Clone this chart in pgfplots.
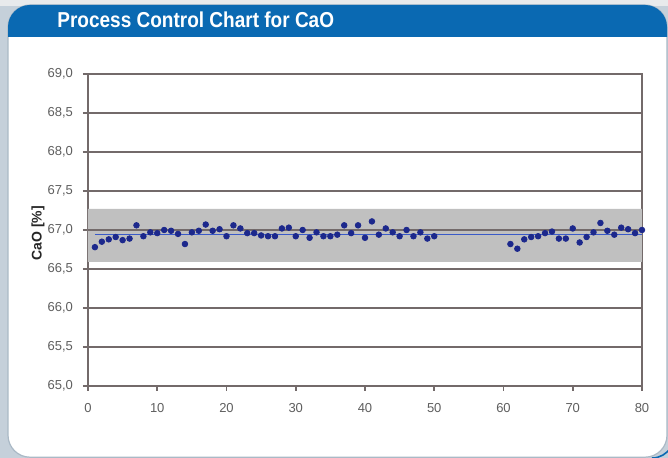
\documentclass[border=0pt]{standalone}
\usepackage{fontspec}
\setmainfont{Liberation Sans}
\newfontfamily\titlefont[FakeStretch=0.88]{Liberation Sans}
\usepackage{pgfplots}
\pgfplotsset{compat=1.18}
\definecolor{hdrblue}{RGB}{10,105,178}
\definecolor{gridc}{RGB}{115,106,106}
\definecolor{bandc}{RGB}{192,192,192}
\definecolor{ptc}{RGB}{28,40,140}
\definecolor{meanc}{RGB}{58,90,200}
\definecolor{tickc}{RGB}{95,95,95}
\definecolor{sidegray}{RGB}{197,208,218}
\definecolor{topgray}{RGB}{232,234,236}
\definecolor{panelborder}{RGB}{170,185,198}
\begin{document}
\begin{tikzpicture}
% background (coordinates in px * 0.5pt, y downward)
\useasboundingbox (0,0) rectangle (334pt,-229pt);
\fill[sidegray] (0,0) rectangle (334pt,-229pt);
\fill[topgray] (0,0) rectangle (334pt,-3pt);
\begin{scope}
\clip (0,0) rectangle (334pt,-229pt);
\fill[white, draw=panelborder, line width=0.6pt, rounded corners=11pt] (4pt,-2.5pt) rectangle (333.5pt,-228.6pt);
\begin{scope}
\clip[rounded corners=11pt] (4pt,-2.5pt) rectangle (333.5pt,-240pt);
\fill[hdrblue] (0,0) rectangle (334pt,-18.5pt);
\end{scope}
\draw[hdrblue, line width=0.8pt] (326pt,-229pt) arc[start angle=-90, end angle=-30, radius=11pt];
\end{scope}
\node[anchor=west, text=white, font=\titlefont\bfseries\fontsize{10.8}{12}\selectfont, inner sep=0pt] at (28.5pt,-10pt) {Process Control Chart for CaO};
\begin{axis}[
  at={(44pt,-193pt)}, anchor=south west,
  scale only axis, width=277pt, height=156pt,
  xmin=0, xmax=80, ymin=65, ymax=69,
  xtick={0,10,...,80}, ytick={65,65.5,...,69},
  ymajorgrids,
  grid style={draw=gridc, line width=1pt},
  axis line style={draw=gridc, line width=1pt},
  tick style={draw=gridc, line width=0.8pt},
  tick align=outside, major tick length=2.5pt,
  xtick pos=bottom, ytick pos=left,
  /pgf/number format/assume math mode=true,
  yticklabel style={/pgf/number format/.cd, use comma, fixed, fixed zerofill, precision=1, /tikz/.cd, xshift=-1.5pt},
  xticklabel style={/pgf/number format/.cd, fixed, precision=0, /tikz/.cd, yshift=-2.5pt},
  ticklabel style={font=\fontsize{6.5}{7}\selectfont, text=tickc},
  ylabel={CaO [\%]},
  ylabel style={at={(axis description cs:0,0.49)}, anchor=center, rotate=0, yshift=25pt, font=\bfseries\fontsize{7}{8}\selectfont, text=black!85},
]
\addplot[fill=bandc, draw=none] coordinates {(0,66.59) (80,66.59) (80,67.27) (0,67.27) (0,66.59)};
\addplot[gridc, line width=1pt] coordinates {(0,67) (80,67)};
\addplot[meanc, line width=0.6pt] coordinates {(1,66.94) (80,66.94)};
\addplot[only marks, mark=*, mark size=1.4pt, mark options={fill=ptc, draw=ptc}] table {
x y
1 66.78
2 66.85
3 66.88
4 66.91
5 66.87
6 66.89
7 67.06
8 66.92
9 66.97
10 66.96
11 67.00
12 66.99
13 66.95
14 66.82
15 66.97
16 66.99
17 67.07
18 66.99
19 67.01
20 66.92
21 67.06
22 67.02
23 66.96
24 66.96
25 66.93
26 66.92
27 66.92
28 67.02
29 67.03
30 66.92
31 67.00
32 66.90
33 66.97
34 66.92
35 66.92
36 66.94
37 67.06
38 66.96
39 67.06
40 66.90
41 67.11
42 66.94
43 67.02
44 66.97
45 66.92
46 67.00
47 66.92
48 66.97
49 66.89
50 66.92
61 66.82
62 66.76
63 66.88
64 66.91
65 66.92
66 66.96
67 66.98
68 66.89
69 66.89
70 67.02
71 66.84
72 66.91
73 66.97
74 67.09
75 66.99
76 66.94
77 67.03
78 67.01
79 66.96
80 67.00
};
\end{axis}
\end{tikzpicture}
\end{document}
